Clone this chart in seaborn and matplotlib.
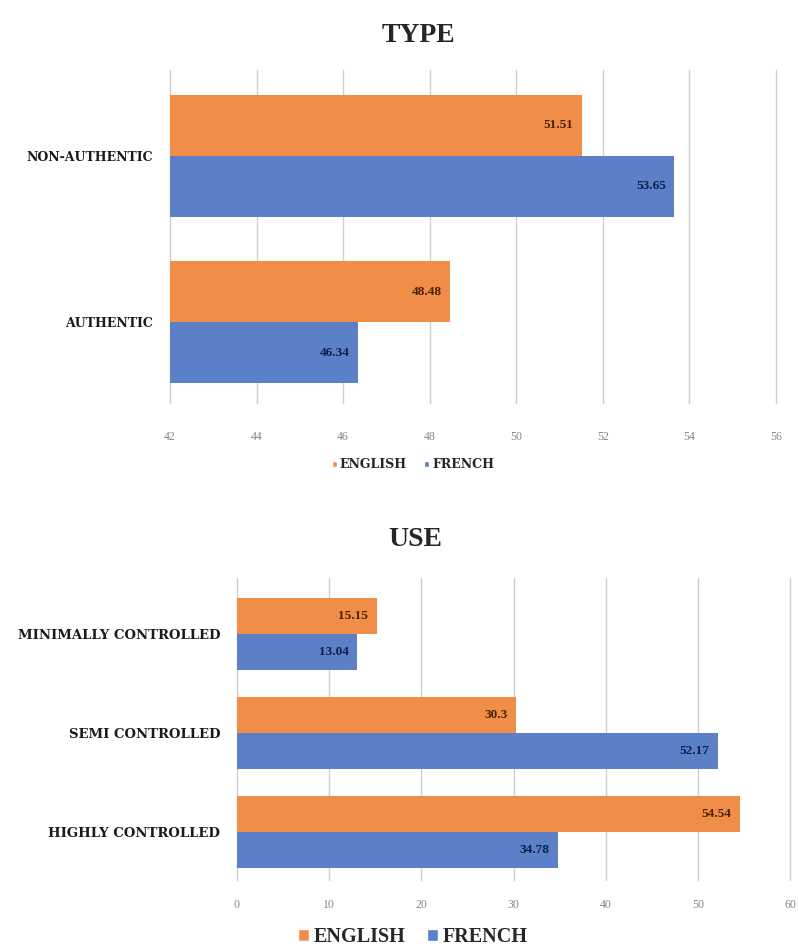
import matplotlib
matplotlib.use("Agg")
import matplotlib.pyplot as plt
import seaborn as sns
import pandas as pd
from matplotlib.patches import Patch

# ---- data ----
languages = ["ENGLISH", "FRENCH"]
type_categories = ["NON-AUTHENTIC", "AUTHENTIC"]
type_english = [51.51, 48.48]
type_french = [53.65, 46.34]
type_ticks = [42, 44, 46, 48, 50, 52, 54, 56]

use_categories = ["MINIMALLY CONTROLLED", "SEMI CONTROLLED", "HIGHLY CONTROLLED"]
use_english = [15.15, 30.3, 54.54]
use_french = [13.04, 52.17, 34.78]
use_ticks = [0, 10, 20, 30, 40, 50, 60]

colors = {"ENGLISH": "#F08D49", "FRENCH": "#5B80C8"}
label_colors = {"ENGLISH": "#4a2200", "FRENCH": "#0d1f4a"}

def long_df(cats, eng, fre):
    rows = []
    for c, e, f in zip(cats, eng, fre):
        rows.append({"cat": c, "lang": "ENGLISH", "val": e})
        rows.append({"cat": c, "lang": "FRENCH", "val": f})
    return pd.DataFrame(rows)

sns.set_theme(style="white")
plt.rcParams["font.family"] = ["Liberation Serif", "DejaVu Serif"]

fig = plt.figure(figsize=(7.98, 9.49), dpi=100)
W, H = 798, 949

def make_ax(left, right, top, bottom):
    return fig.add_axes([left / W, 1 - bottom / H, (right - left) / W, (bottom - top) / H])

ax1 = make_ax(170, 776, 70, 403)
ax2 = make_ax(237, 790, 578, 880)

def draw(ax, df, cats, ticks, xlim, ylim, vfs, catfs, tickfs, tickpad):
    sns.barplot(data=df, y="cat", x="val", hue="lang", order=cats,
                hue_order=languages, palette=colors, width=0.73,
                orient="h", ax=ax, legend=False, saturation=1, edgecolor="none")
    ax.set_xlim(*xlim)
    ax.set_ylim(*ylim)
    ax.set_xticks(ticks)
    ax.set_xticklabels([str(t) for t in ticks])
    ax.set_xlabel("")
    ax.set_ylabel("")
    ax.grid(axis="x", color="#cfcfcf", linewidth=1.0)
    ax.grid(axis="y", visible=False)
    ax.set_axisbelow(True)
    for gl in ax.xaxis.get_gridlines():
        gl.set_clip_on(False)
    for s in ax.spines.values():
        s.set_visible(False)
    ax.tick_params(axis="x", length=0, pad=tickpad, labelsize=tickfs, labelcolor="#858585")
    ax.tick_params(axis="y", length=0, pad=12)
    for lbl in ax.get_yticklabels():
        lbl.set_fontweight("bold")
        lbl.set_fontsize(catfs)
        lbl.set_fontfamily(["DejaVu Serif"])
        lbl.set_color("#1a1a1a")
    for container, lang in zip(ax.containers, languages):
        for patch, v in zip(container.patches, df[df.lang == lang]["val"]):
            ax.annotate(f"{v:g}",
                        (patch.get_x() + patch.get_width(), patch.get_y() + patch.get_height() / 2),
                        xytext=(-6, 0), textcoords="offset points",
                        ha="right", va="center", fontsize=vfs, fontweight="bold",
                        color=label_colors[lang])

df1 = long_df(type_categories, type_english, type_french)
df2 = long_df(use_categories, use_english, use_french)

draw(ax1, df1, type_categories, type_ticks, (42, 56), (1.485, -0.515), 9.5, 9, 8.5, 20)
draw(ax2, df2, use_categories, use_ticks, (0, 60), (2.485, -0.566), 9.5, 9.5, 8.5, 14)

fig.text(418 / W, 1 - 35 / H, "TYPE", ha="center", va="center", fontsize=20, fontweight="bold")
fig.text(415 / W, 1 - 540 / H, "USE", ha="center", va="center", fontsize=20, fontweight="bold")

handles = [Patch(facecolor=colors[l], label=l) for l in languages]
fig.legend(handles=handles, loc="center", bbox_to_anchor=(413 / W, 1 - 465 / H), ncol=2,
           frameon=False, handlelength=0.4, handleheight=0.4, handletextpad=0.25,
           columnspacing=1.4, prop={"weight": "bold", "size": 9, "family": "DejaVu Serif"})
fig.legend(handles=handles, loc="center", bbox_to_anchor=(413 / W, 1 - 937 / H), ncol=2,
           frameon=False, handlelength=0.5, handleheight=0.5, handletextpad=0.25,
           columnspacing=1.1, prop={"weight": "bold", "size": 14.5})

fig.savefig("out.png", dpi=100, facecolor="white")
